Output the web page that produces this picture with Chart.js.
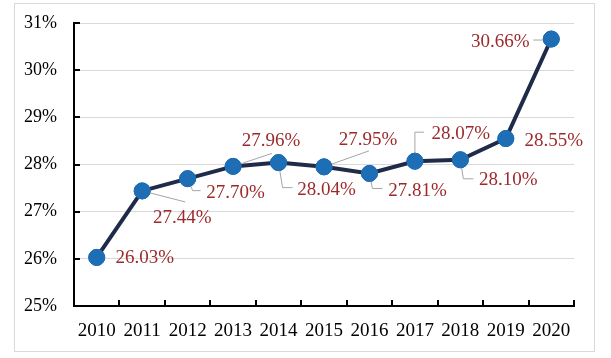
<!DOCTYPE html>
<html>
<head>
<meta charset="utf-8">
<script src="https://cdn.jsdelivr.net/npm/chart.js@4/dist/chart.umd.min.js"></script>
<style>
  html, body { margin: 0; padding: 0; background: #ffffff; }
  #wrap { width: 611px; height: 358px; }
</style>
</head>
<body>
<div id="wrap"><canvas id="myChart"></canvas></div>
<script>
// data
const years = ["2010", "2011", "2012", "2013", "2014", "2015", "2016", "2017", "2018", "2019", "2020"];
const shares = [26.03, 27.44, 27.70, 27.96, 28.04, 27.95, 27.81, 28.07, 28.10, 28.55, 30.66];
const yTicks = [25, 26, 27, 28, 29, 30, 31];

// label placement relative to each point: [dx, dy] of text centre, then leader path
const labelPos = [
  { dx: 48, dy: 1, leader: [] },
  { dx: 40, dy: 27, leader: [[0, 0], [43, 11]] },
  { dx: 48, dy: 14, leader: [[0, 0], [5, 12], [13, 12]] },
  { dx: 38, dy: -25, leader: [[0, 0], [39, -13]] },
  { dx: 48, dy: 27, leader: [[0, 0], [4, 25], [14, 25]] },
  { dx: 44, dy: -27, leader: [[0, 0], [45, -16]] },
  { dx: 48, dy: 18, leader: [[0, 0], [3, 15], [13, 15]] },
  { dx: 46, dy: -27, leader: [[0, 0], [0, -29], [9, -29]] },
  { dx: 48, dy: 20, leader: [[0, 0], [3, 19], [13, 19]] },
  { dx: 48, dy: 2, leader: [] },
  { dx: -51, dy: 3, leader: [[-18, 1], [0, 1]] },
];

const serif = '"Liberation Serif", "Times New Roman", serif';

// white page with a thin grey frame
const framePlugin = {
  id: "frame",
  beforeDraw(chart) {
    const ctx = chart.ctx;
    ctx.save();
    ctx.fillStyle = "#ffffff";
    ctx.fillRect(0, 0, chart.width, chart.height);
    ctx.strokeStyle = "#d9d9d9";
    ctx.lineWidth = 1;
    ctx.strokeRect(14.5, 3.5, 580, 348);
    ctx.restore();
  },
};

// inward tick marks on both axes
const tickPlugin = {
  id: "innerTicks",
  afterDraw(chart) {
    const ctx = chart.ctx;
    const area = chart.chartArea;
    const y = chart.scales.y;
    ctx.save();
    ctx.strokeStyle = "#000000";
    ctx.lineWidth = 2;
    ctx.beginPath();
    yTicks.forEach((v) => {
      const py = Math.round(y.getPixelForValue(v));
      ctx.moveTo(area.left, py);
      ctx.lineTo(area.left + 6, py);
    });
    const step = (area.right - area.left) / years.length;
    for (let k = 1; k <= years.length; k++) {
      const px = Math.round(area.left + k * step);
      ctx.moveTo(px, area.bottom);
      ctx.lineTo(px, area.bottom - 6);
    }
    ctx.stroke();
    ctx.restore();
  },
};

// value labels with grey leader lines
const labelPlugin = {
  id: "valueLabels",
  afterDatasetsDraw(chart) {
    const ctx = chart.ctx;
    const meta = chart.getDatasetMeta(0);
    ctx.save();
    meta.data.forEach((pt, i) => {
      const pos = labelPos[i];
      if (pos.leader.length) {
        ctx.strokeStyle = "#a6a6a6";
        ctx.lineWidth = 1;
        ctx.beginPath();
        pos.leader.forEach(([lx, ly], j) => {
          if (j === 0) ctx.moveTo(pt.x + lx, pt.y + ly);
          else ctx.lineTo(pt.x + lx, pt.y + ly);
        });
        ctx.stroke();
      }
    });
    // redraw points on top of leaders
    meta.data.forEach((pt) => pt.draw(ctx));
    ctx.fillStyle = "#9c2a2c";
    ctx.font = "19px " + serif;
    ctx.textAlign = "center";
    ctx.textBaseline = "middle";
    meta.data.forEach((pt, i) => {
      const pos = labelPos[i];
      ctx.fillText(shares[i].toFixed(2) + "%", pt.x + pos.dx, pt.y + pos.dy);
    });
    ctx.restore();
  },
};

new Chart("myChart", {
  type: "line",
  data: {
    labels: years,
    datasets: [
      {
        data: shares,
        borderColor: "#1f2b48",
        borderWidth: 4,
        pointRadius: 8,
        pointBackgroundColor: "#1e6eb6",
        pointBorderColor: "#1e6eb6",
        pointBorderWidth: 1,
        tension: 0,
      },
    ],
  },
  options: {
    responsive: true,
    maintainAspectRatio: false,
    animation: false,
    layout: { padding: { left: 14, top: 23, right: 37, bottom: 10 } },
    plugins: {
      legend: { display: false },
      tooltip: { enabled: false },
    },
    scales: {
      x: {
        offset: true,
        grid: { display: false, drawTicks: false },
        border: { display: true, color: "#000000", width: 2 },
        ticks: {
          color: "#000000",
          font: { family: serif, size: 19 },
          padding: 14,
          maxRotation: 0,
          autoSkip: false,
        },
        afterFit(scale) {
          scale.height = 42;
          scale.paddingLeft = 0;
          scale.paddingRight = 0;
        },
      },
      y: {
        min: 25,
        max: 31,
        grid: { color: "#d9d9d9", lineWidth: 1, drawTicks: false },
        border: { display: true, color: "#000000", width: 2 },
        ticks: {
          stepSize: 1,
          color: "#000000",
          font: { family: serif, size: 18 },
          padding: 17,
          callback: (v) => v + "%",
        },
        afterFit(scale) {
          scale.width = 60;
          scale.paddingTop = 0;
          scale.paddingBottom = 0;
        },
      },
    },
  },
  plugins: [framePlugin, tickPlugin, labelPlugin],
});
</script>
</body>
</html>
